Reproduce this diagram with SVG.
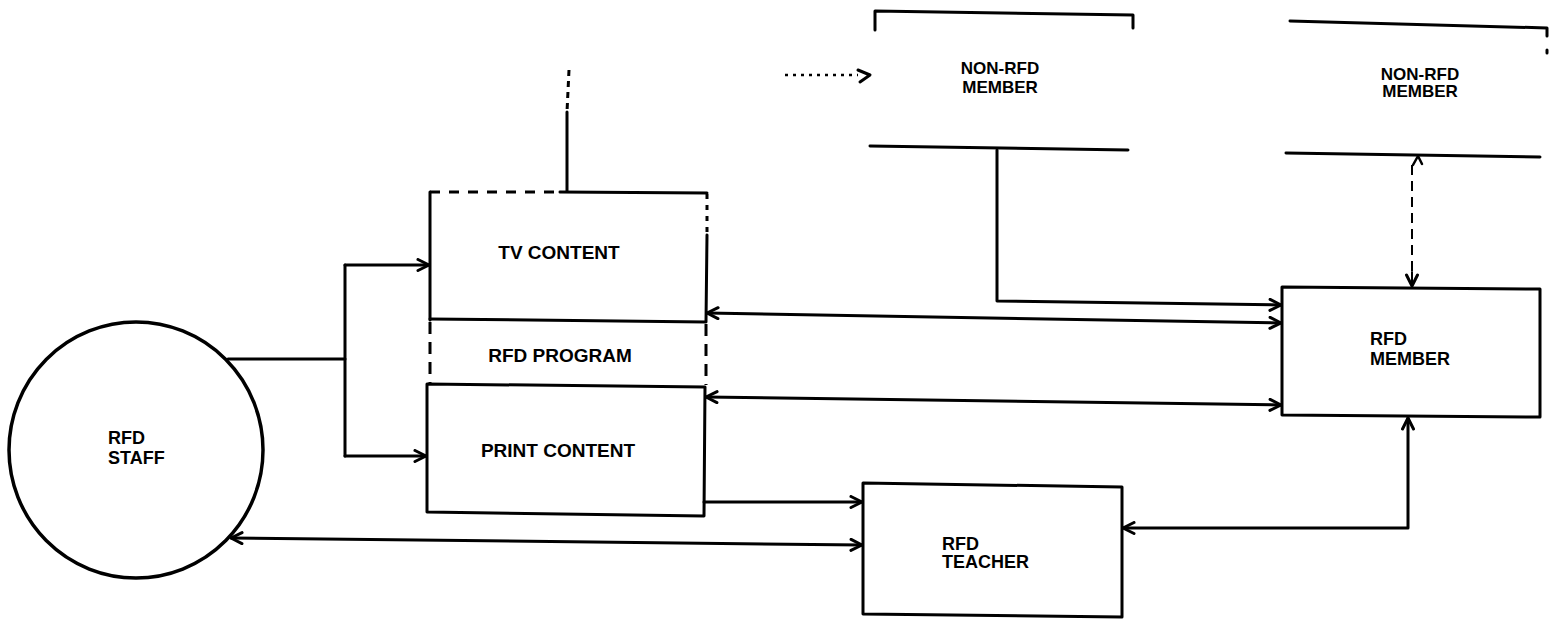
<svg xmlns="http://www.w3.org/2000/svg" width="1558" height="619" viewBox="0 0 1558 619">
<defs>
<style>
.ln{fill:none;stroke:#000;stroke-width:3;stroke-linecap:round;stroke-linejoin:round}
.bx{fill:#fff;stroke:#000;stroke-width:3}
.dash{fill:none;stroke:#000;stroke-width:3;stroke-dasharray:12 8}
.dot{fill:none;stroke:#000;stroke-width:2.5;stroke-dasharray:3 5}
.lbl{font-family:"Liberation Sans",Arial,sans-serif;font-weight:bold;font-size:18px;fill:#000}
.big{font-family:"Liberation Sans",Arial,sans-serif;font-weight:bold;font-size:19px;fill:#000}
</style>
<marker id="ah" viewBox="0 0 14 14" refX="13" refY="7" markerWidth="14" markerHeight="14" markerUnits="userSpaceOnUse" orient="auto-start-reverse">
<path d="M2,1.5 L13,7 L2,12.5" fill="none" stroke="#000" stroke-width="3" stroke-linecap="round" stroke-linejoin="round"/>
</marker>
</defs>
<rect width="1558" height="619" fill="#fff"/>

<g id="connectors">
<!-- staff to content junction -->
<path class="ln" d="M228,359 L345,359"/>
<path class="ln" d="M345,265 L345,456"/>
<path class="ln" d="M345,265 L429,265" marker-end="url(#ah)"/>
<path class="ln" d="M345,456 L426,456" marker-end="url(#ah)"/>
<!-- TV content up line -->
<path class="ln" d="M567,112 L567,191"/>
<path class="dash" d="M569,70 L567,112" style="stroke-dasharray:6 5"/>
<!-- dotted arrow into non-rfd member -->
<path class="dot" d="M785,75 L858,75"/>
<path class="ln" d="M858,70 L870,75 L860,82"/>
<!-- TV <-> member -->
<path class="ln" d="M707,313 L1281,323" marker-start="url(#ah)" marker-end="url(#ah)"/>
<!-- print <-> member -->
<path class="ln" d="M706,397 L1281,405" marker-start="url(#ah)" marker-end="url(#ah)"/>
<!-- non-rfd member 1 -> member -->
<path class="ln" d="M997,150 L997,301 L1281,305" marker-end="url(#ah)"/>
<!-- non-rfd member 2 -> member dashed -->
<path class="dash" d="M1412,165 L1412,280" style="stroke-width:2;stroke-dasharray:10 6"/>
<path class="ln" d="M1412,272 L1412,286" marker-end="url(#ah)" style="stroke-width:2"/>
<path class="ln" d="M1413,165 L1418,156 L1422,164" style="stroke-width:2.5"/>
<!-- print -> teacher -->
<path class="ln" d="M704,502 L862,502" marker-end="url(#ah)"/>
<!-- staff <-> teacher -->
<path class="ln" d="M231,538 L862,545" marker-start="url(#ah)" marker-end="url(#ah)"/>
<!-- member <-> teacher -->
<path class="ln" d="M1408,418 L1408,528 L1123,528" marker-start="url(#ah)" marker-end="url(#ah)"/>
</g>

<g id="rfd-staff">
<ellipse cx="136" cy="450" rx="127" ry="128" fill="#fff" stroke="#000" stroke-width="3.5"/>
<text class="lbl" x="108" y="444">RFD</text>
<text class="lbl" x="108" y="464">STAFF</text>
</g>

<g id="tv-content">
<path class="ln" d="M430,320 L430,192"/>
<path class="dash" d="M430,192 L560,192" style="stroke-dasharray:10 9"/>
<path class="ln" d="M560,192 L707,193"/>
<path class="dash" d="M707,194 L707,232" style="stroke-dasharray:5 6"/>
<path class="ln" d="M707,235 L706,322 L430,319"/>
<text class="big" x="559" y="259" text-anchor="middle">TV CONTENT</text>
</g>

<g id="rfd-program">
<path class="dash" d="M430,322 L430,383"/>
<path class="dash" d="M706,324 L706,385"/>
<text class="big" x="560" y="362" text-anchor="middle">RFD PROGRAM</text>
</g>

<g id="print-content">
<path class="ln" d="M427,384 L705,387 L704,516 L427,512 Z"/>
<text class="big" x="558" y="457" text-anchor="middle">PRINT CONTENT</text>
</g>

<g id="non-rfd-member-1">
<path class="ln" d="M875,30 L875,11 L1133,15 L1133,28"/>
<path class="ln" d="M870,146 L1128,150"/>
<text class="lbl" x="1000" y="74" text-anchor="middle" style="font-size:17px">NON-RFD</text>
<text class="lbl" x="1000" y="93" text-anchor="middle" style="font-size:17px">MEMBER</text>
</g>

<g id="non-rfd-member-2">
<path class="ln" d="M1290,21 L1547,28 L1547,36"/>
<path class="ln" d="M1547,50 L1547,53"/>
<path class="ln" d="M1286,153 L1540,157"/>
<text class="lbl" x="1420" y="80" text-anchor="middle" style="font-size:17px">NON-RFD</text>
<text class="lbl" x="1420" y="97" text-anchor="middle" style="font-size:17px">MEMBER</text>
</g>

<g id="rfd-member">
<path class="ln" d="M1282,287 L1540,289 L1540,417 L1282,415 Z"/>
<text class="lbl" x="1370" y="345">RFD</text>
<text class="lbl" x="1370" y="365">MEMBER</text>
</g>

<g id="rfd-teacher">
<path class="ln" d="M863,483 L1122,487 L1122,617 L863,614 Z"/>
<text class="lbl" x="942" y="550">RFD</text>
<text class="lbl" x="942" y="568">TEACHER</text>
</g>
</svg>
